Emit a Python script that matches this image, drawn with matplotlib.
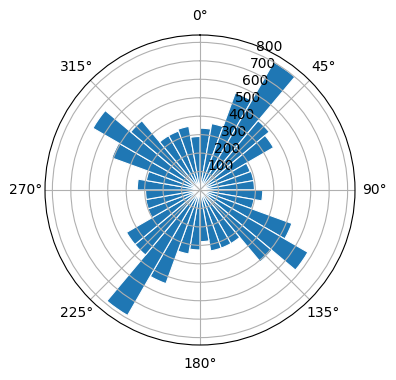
import numpy as np
import matplotlib
matplotlib.use("Agg")
import matplotlib.pyplot as plt

# bar centre directions (degrees, clockwise from north) and bar lengths
directions = [5, 15, 25, 35, 45, 55, 65, 75, 85,
              95, 105, 115, 125, 135, 145, 155, 165, 175,
              185, 195, 205, 215, 225, 235, 245, 255, 265,
              275, 285, 295, 305, 315, 325, 335, 345, 355]
counts = [335, 365, 560, 800, 490, 460, 290, 295, 295,
          340, 297, 530, 675, 508, 335, 335, 335, 280,
          325, 352, 540, 785, 460, 460, 300, 298, 295,
          340, 295, 508, 670, 490, 340, 340, 350, 290]
bin_width_deg = 10

fig = plt.figure(figsize=(3.96, 3.80), dpi=100)
ax = fig.add_axes([45/396, 35/380, 310/396, 310/380], projection='polar')
ax.set_theta_zero_location('N')
ax.set_theta_direction(-1)

theta = np.deg2rad(directions)
ax.bar(theta, counts, width=np.deg2rad(bin_width_deg), color='C0',
       edgecolor='white', linewidth=0.8)
ax.set_rticks([100, 200, 300, 400, 500, 600, 700, 800])

fig.savefig('out.png', dpi=100)
